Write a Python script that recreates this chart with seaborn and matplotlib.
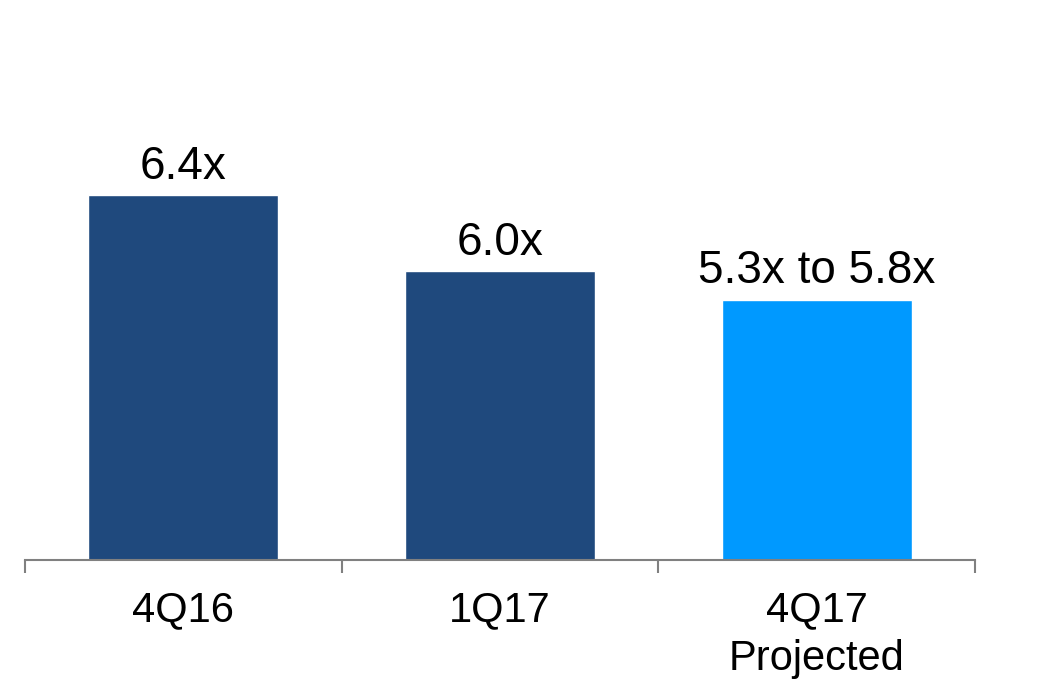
import matplotlib
matplotlib.use("Agg")
import matplotlib.pyplot as plt
import seaborn as sns
import pandas as pd

categories = ["4Q16", "1Q17", "4Q17\nProjected"]
values = [6.4, 6.0, 5.85]
labels = ["6.4x", "6.0x", "5.3x to 5.8x"]
colors = ["#1f497d", "#1f497d", "#0099ff"]

sns.set_style("white")
plt.rcParams["font.family"] = ["Liberation Sans", "DejaVu Sans"]

fig = plt.figure(figsize=(10.5, 6.9), dpi=100)
ax = fig.add_axes([25 / 1050, 130 / 690, 950 / 1050, 560 / 690])

df = pd.DataFrame({"cat": categories, "val": values})
sns.barplot(data=df, x="cat", y="val", hue="cat", palette=colors,
            width=0.6, legend=False, ax=ax, saturation=1)

ymin = 4.48
ax.set_ylim(ymin, ymin + 560 / 190)
ax.set_xlim(-0.5, 2.5)

for i, (v, t) in enumerate(zip(values, labels)):
    ax.annotate(t, (i, v), xytext=(0, 12), textcoords="offset points",
                ha="center", va="baseline", fontsize=33, color="black")

for s in ["left", "top", "right"]:
    ax.spines[s].set_visible(False)
ax.spines["bottom"].set_color("#808080")
ax.spines["bottom"].set_linewidth(1.5)

ax.set_yticks([])
ax.set_xticks(range(len(categories)))
ax.set_xticklabels(categories, fontsize=30, linespacing=1.28, color="black")
ax.set_xticks([-0.5, 0.5, 1.5, 2.5], minor=True)
ax.tick_params(axis="x", which="major", length=0, pad=22, labelcolor="black")
ax.tick_params(axis="x", which="minor", length=9, width=1.5, color="#808080",
               direction="out", bottom=True)
ax.set_xlabel("")
ax.set_ylabel("")

fig.savefig("out.png", dpi=100)
